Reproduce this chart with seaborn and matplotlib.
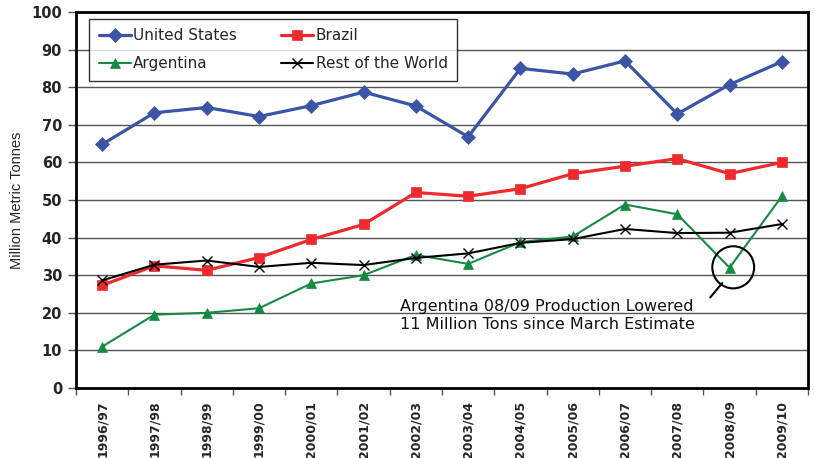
import numpy as np
import pandas as pd
import matplotlib
matplotlib.use("Agg")
import matplotlib.pyplot as plt
from matplotlib.patches import Ellipse
import seaborn as sns

years = ["1996/97", "1997/98", "1998/99", "1999/00", "2000/01", "2001/02", "2002/03",
         "2003/04", "2004/05", "2005/06", "2006/07", "2007/08", "2008/09", "2009/10"]
united_states = [64.8, 73.2, 74.6, 72.2, 75.1, 78.7, 75.0, 66.8, 85.0, 83.5, 87.0, 72.9, 80.7, 86.8]
brazil = [27.3, 32.5, 31.3, 34.7, 39.5, 43.5, 52.0, 51.0, 53.0, 57.0, 59.0, 61.0, 57.0, 60.0]
argentina = [11.0, 19.5, 20.0, 21.2, 27.8, 30.0, 35.4, 33.0, 38.8, 40.3, 48.8, 46.2, 32.0, 51.0]
rest_of_world = [28.6, 32.8, 33.9, 32.2, 33.3, 32.7, 34.6, 35.8, 38.6, 39.6, 42.3, 41.2, 41.3, 43.6]

series = [
    ("United States", united_states, "#3B54A5", "D", 7.5, 2.3),
    ("Brazil", brazil, "#EE2A2E", "s", 6.5, 2.3),
    ("Argentina", argentina, "#168A45", "^", 6.5, 1.5),
    ("Rest of the World", rest_of_world, "#000000", "x", 7.5, 1.5),
]

sns.set_theme(style="white")
plt.rcParams['font.family'] = ['DejaVu Sans']

fig = plt.figure(figsize=(8.14, 4.58), dpi=100)
ax = fig.add_axes([76/814, 1-388/458, 732/814, 376/458])

pos = np.arange(len(years))
for name, vals, col, mk, ms, lw in series:
    df = pd.DataFrame({"x": pos, "y": vals})
    sns.lineplot(data=df, x="x", y="y", ax=ax, color=col, marker=mk, markersize=ms,
                 linewidth=lw, markeredgecolor=col, markeredgewidth=1.0 if mk == "x" else 0.5,
                 label=name, sort=False)

ax.set_xlim(-0.5, len(years) - 0.5)
ax.set_ylim(0, 100)
ax.set_yticks(np.arange(0, 101, 10))
ax.set_yticklabels([str(v) for v in range(0, 101, 10)], fontsize=10.5, fontweight="bold")
ax.set_xticks(pos)
ax.set_xticklabels(years, rotation=90, fontsize=9, fontweight="bold")
ax.set_xticks(np.arange(-0.5, len(years), 1), minor=True)
ax.tick_params(axis="x", which="major", length=0, pad=9)
ax.tick_params(axis="x", which="minor", length=5, width=1, color="#555555", direction="out", bottom=True)
ax.tick_params(axis="y", length=6, width=1, color="#555555", direction="out", left=True, pad=4)
ax.set_xlabel("")
ax.set_ylabel("Million Metric Tonnes", fontsize=10.5, family=["Liberation Sans"], labelpad=5)

ax.grid(axis="y", color="#555555", linewidth=1.0)
ax.set_axisbelow(True)
for s in ax.spines.values():
    s.set_color("black")
    s.set_linewidth(2)

handles, labels = ax.get_legend_handles_labels()
order = [0, 2, 1, 3]
leg = ax.legend([handles[i] for i in order], [labels[i] for i in order],
                loc="upper left", bbox_to_anchor=(0.018, 0.982), borderaxespad=0, ncol=2,
                fontsize=11, frameon=True, fancybox=False, handlelength=2.1,
                columnspacing=2.9, borderpad=0.62, labelspacing=0.85, handletextpad=0.15)
leg.get_frame().set_edgecolor("black")
leg.get_frame().set_linewidth(1.0)

ax.text(5.7, 15.7, "Argentina 08/09 Production Lowered\n11 Million Tons since March Estimate",
        fontsize=11.5, color="#111111", linespacing=1.25, va="baseline")
ax.add_patch(Ellipse((12.07, 32.1), 0.8, 11.2, fill=False, edgecolor="black", linewidth=1.5, zorder=5))
ax.plot([11.63, 11.86], [24.1, 27.9], color="black", linewidth=1.5, zorder=5)

fig.savefig("out.png", dpi=100)
